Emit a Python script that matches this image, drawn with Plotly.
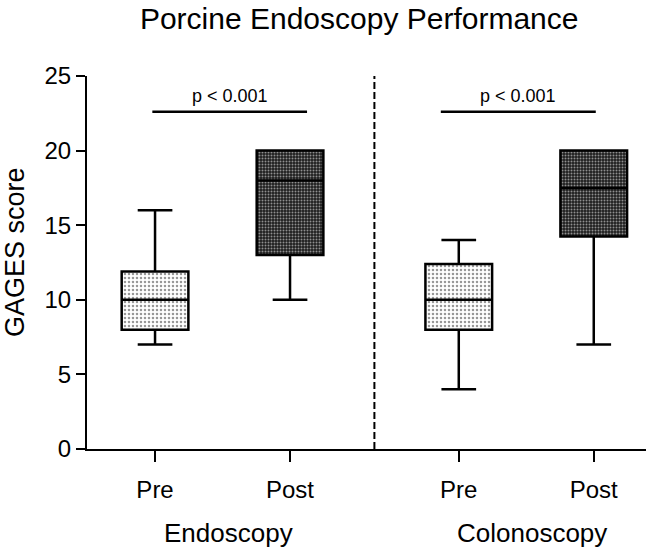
import plotly.graph_objects as go

# ---- data ----
groups = ["Endoscopy", "Colonoscopy"]
conditions = ["Pre", "Post"]
lowerfence = [7, 10, 4, 7]
q1 = [8, 13, 8, 14.25]
median = [10, 18, 10, 17.5]
q3 = [11.9, 20, 12.4, 20]
upperfence = [16, 20, 14, 20]
sig_text = ["p < 0.001", "p < 0.001"]
sig_level = 22.6

# ---- layout helpers ----
group_gap = 2.25          # distance between first boxes of each group (axis units)
box_w = 0.494
positions = []
for gi in range(len(groups)):
    for ci in range(len(conditions)):
        positions.append(1 + gi * group_gap + ci)
tick_text = [c for _ in groups for c in conditions]

pattern_styles = {
    "Pre": dict(shape=".", fgcolor="#303030", bgcolor="#ffffff", size=4, solidity=0.32),
    "Post": dict(shape=".", fgcolor="#ffffff", bgcolor="#1e1e1e", size=3, solidity=0.35),
}

FONT = "Liberation Sans, Arial, sans-serif"

fig = go.Figure()

# patterned fills (between q1 and q3)
for i, x in enumerate(positions):
    cond = tick_text[i]
    fig.add_trace(go.Bar(
        x=[x], y=[q3[i] - q1[i]], base=[q1[i]], width=box_w,
        marker=dict(color="white", line=dict(width=0), pattern=pattern_styles[cond]),
        showlegend=False, hoverinfo="skip",
    ))

# box outlines
for i, x in enumerate(positions):
    fig.add_trace(go.Box(
        x=[x], q1=[q1[i]], median=[median[i]], q3=[q3[i]],
        lowerfence=[lowerfence[i]], upperfence=[upperfence[i]],
        width=box_w, whiskerwidth=0.52,
        fillcolor="rgba(0,0,0,0)", line=dict(color="black", width=2.5),
        boxpoints=False, showlegend=False,
    ))

# dashed separator between groups
sep_x = (positions[1] + positions[2]) / 2
fig.add_shape(type="line", xref="x", yref="y", x0=sep_x, x1=sep_x, y0=0, y1=25,
              line=dict(color="black", width=2, dash="7px,3px"))

# significance bars
sig_spans = [(positions[0] - 0.02, positions[1] + 0.126),
             (positions[2] - 0.133, positions[3] + 0.015)]
for (xa, xb), txt in zip(sig_spans, sig_text):
    fig.add_shape(type="line", xref="x", yref="y", x0=xa, x1=xb, y0=sig_level, y1=sig_level,
                  line=dict(color="black", width=2.5))
    fig.add_annotation(x=(xa + xb) / 2, y=sig_level, xref="x", yref="y", text=txt,
                       showarrow=False, yanchor="bottom", yshift=4,
                       font=dict(family=FONT, size=18, color="black"))

# group labels
for gi, g in enumerate(groups):
    cx = (positions[2 * gi] + positions[2 * gi + 1]) / 2
    fig.add_annotation(x=cx, y=0, xref="x", yref="y", text=g, showarrow=False,
                       yanchor="middle", yshift=-84, xshift=6,
                       font=dict(family=FONT, size=26, color="black"))

# y-axis title
fig.add_annotation(x=-0.129, y=0.528, xref="paper", yref="paper", text="GAGES score",
                   textangle=-90, showarrow=False, xanchor="center", yanchor="middle",
                   font=dict(family=FONT, size=27, color="black"))

fig.update_layout(
    width=646, height=552,
    margin=dict(l=87, r=0, t=76, b=103),
    paper_bgcolor="white", plot_bgcolor="white",
    barmode="overlay", showlegend=False,
    font=dict(family=FONT, color="black"),
    title=dict(text="Porcine Endoscopy Performance", x=0.556, xref="container",
               y=0.967, yref="container", xanchor="center", yanchor="middle",
               font=dict(family=FONT, size=30, color="black")),
    xaxis=dict(range=[0.496, 4.637], tickvals=positions, ticktext=tick_text,
               showline=True, linecolor="black", linewidth=2,
               ticks="outside", ticklen=11, tickwidth=2, tickcolor="black",
               showgrid=False, zeroline=False, ticklabelstandoff=7,
               tickfont=dict(family=FONT, size=24, color="black")),
    yaxis=dict(range=[0, 25], dtick=5, showline=True, linecolor="black", linewidth=2,
               ticks="outside", ticklen=9, tickwidth=2, tickcolor="black",
               showgrid=False, zeroline=False,
               tickfont=dict(family=FONT, size=24, color="black")),
)

fig.write_html("out.html", config={"displayModeBar": False},
               post_script="document.body.style.margin='0';document.body.style.overflow='hidden';")
